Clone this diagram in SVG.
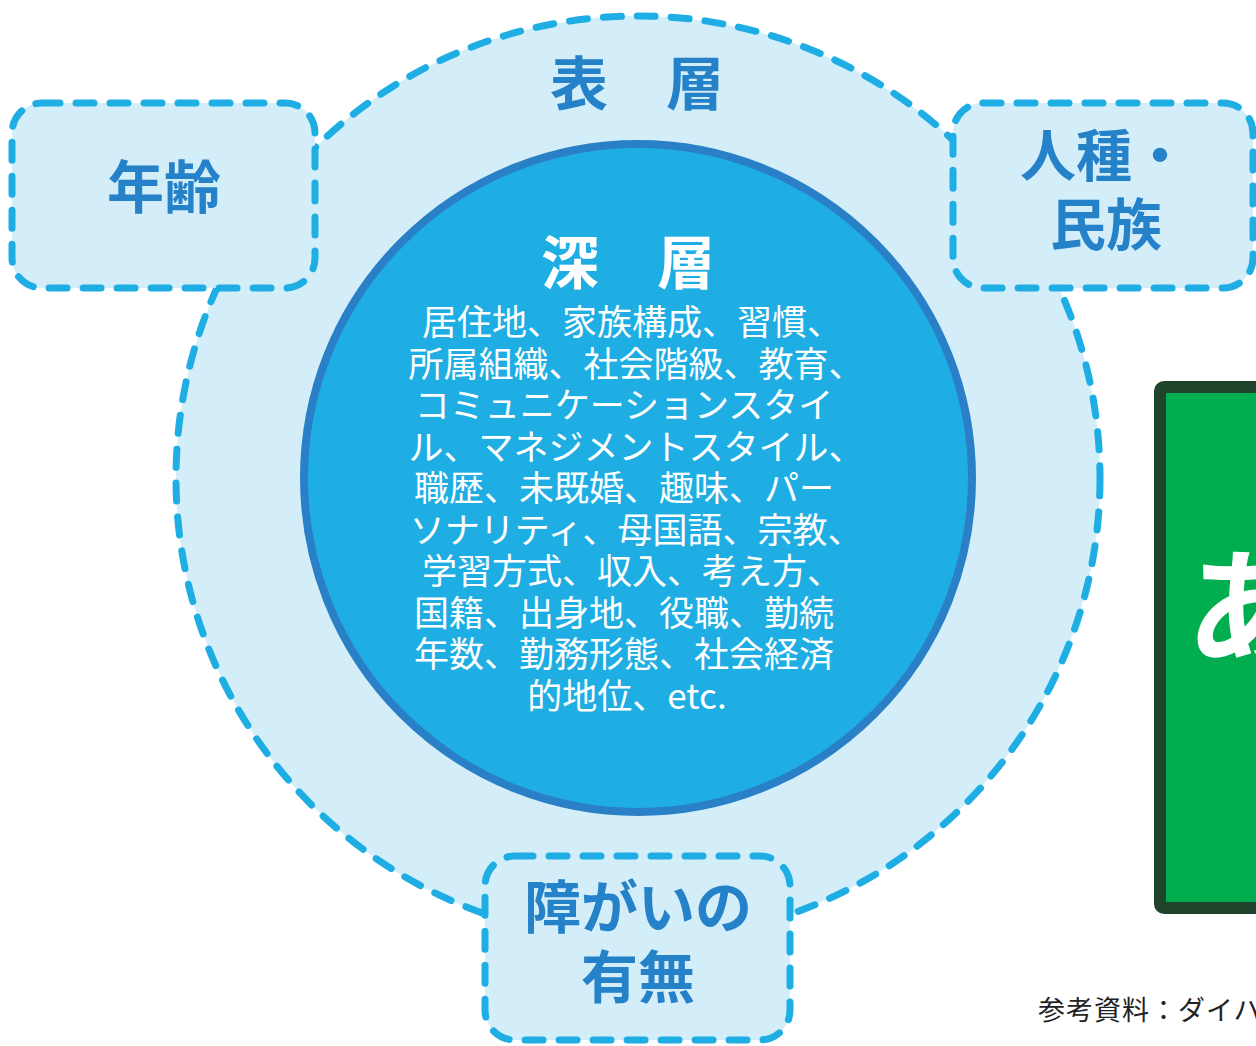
<svg xmlns="http://www.w3.org/2000/svg" width="1256" height="1046" viewBox="0 0 1256 1046">
<style>
.dash{fill:#d3eef9;stroke:#1eaee3;stroke-width:7;stroke-dasharray:18 16;stroke-linecap:round}
.lbl{font-family:"Noto Sans CJK JP","Noto Sans",sans-serif;font-weight:700;fill:#2581c8;text-anchor:middle}
.body{font-family:"Noto Sans CJK JP","Noto Sans",sans-serif;font-size:35px;fill:#ffffff;text-anchor:middle}
</style>
<rect width="1256" height="1046" fill="#ffffff"/>
<g id="outer">
<circle class="dash" cx="638" cy="478" r="462"/>
<text class="lbl" x="637" y="105" font-size="58">表　層</text>
</g>
<g id="inner">
<circle cx="638" cy="478" r="334" fill="#1eaee3" stroke="#2a80c6" stroke-width="8"/>
<text class="lbl" x="628" y="284" font-size="58" style="fill:#fff">深　層</text>
<text class="body">
<tspan x="636" y="335">居住地、家族構成、習慣、</tspan>
<tspan x="640" y="376.5">所属組織、社会階級、教育、</tspan>
<tspan x="628" y="418">コミュニケーションスタイ</tspan>
<tspan x="640" y="459.5">ル、マネジメントスタイル、</tspan>
<tspan x="628" y="501">職歴、未既婚、趣味、パー</tspan>
<tspan x="640" y="542.5">ソナリティ、母国語、宗教、</tspan>
<tspan x="636" y="584">学習方式、収入、考え方、</tspan>
<tspan x="628" y="625.5">国籍、出身地、役職、勤続</tspan>
<tspan x="628" y="667">年数、勤務形態、社会経済</tspan>
<tspan x="627" y="708.5">的地位、etc.</tspan>
</text>
</g>
<g id="age">
<rect class="dash" x="12" y="103" width="303" height="185" rx="30"/>
<text class="lbl" x="164" y="208" font-size="57">年齢</text>
</g>
<g id="race">
<rect class="dash" x="953" y="103" width="300" height="185" rx="30"/>
<text class="lbl" x="1104" y="176" font-size="56">人種・</text>
<text class="lbl" x="1106" y="245" font-size="56">民族</text>
</g>
<g id="disability">
<rect class="dash" x="485" y="856" width="305" height="184" rx="30"/>
<text class="lbl" x="638" y="928" font-size="57">障がいの</text>
<text class="lbl" x="638" y="998" font-size="57">有無</text>
</g>
<g id="green">
<rect x="1160" y="387" width="120" height="521" rx="4" fill="#00ae4f" stroke="#1f442b" stroke-width="12"/>
<text x="1186" y="656" font-family="Noto Sans CJK JP,sans-serif" font-weight="700" font-size="128" fill="#ffffff">あ</text>
</g>
<g id="caption">
<text x="1038" y="1020" font-family="Noto Sans CJK JP,sans-serif" font-size="27" letter-spacing="1" fill="#222222">参考資料：ダイハ</text>
</g>
<g id="connectors"></g>
</svg>
